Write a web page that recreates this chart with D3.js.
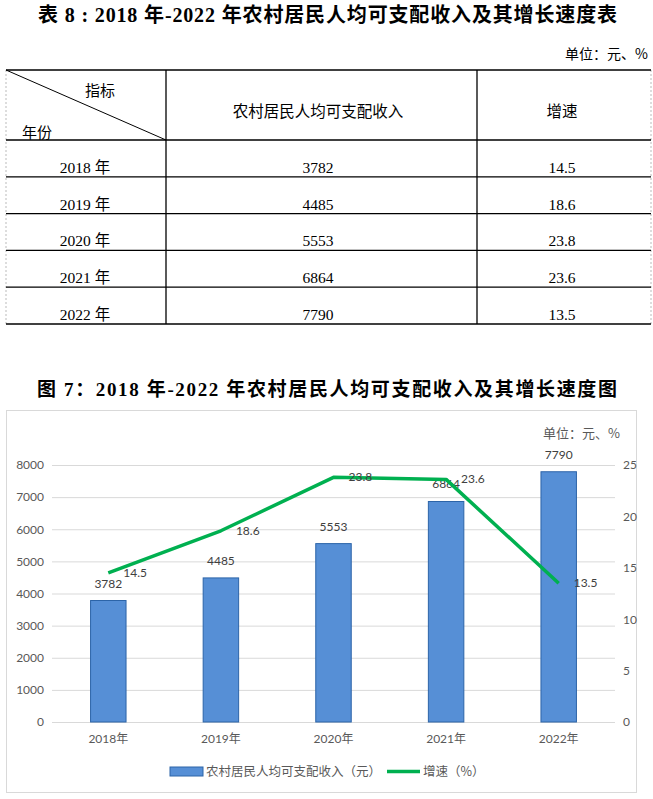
<!DOCTYPE html>
<html>
<head>
<meta charset="utf-8">
<script src="https://cdn.jsdelivr.net/npm/d3@7/dist/d3.min.js"></script>
<style>
  html, body { margin: 0; padding: 0; background: #fff; }
  svg { display: block; }
</style>
</head>
<body>
<div id="container"></div>
<script>
// data
let years = ['2018', '2019', '2020', '2021', '2022'];
let income = [3782, 4485, 5553, 6864, 7790];
let growth = [14.5, 18.6, 23.8, 23.6, 13.5];
let growthText = ['14.5', '18.6', '23.8', '23.6', '13.5'];
let leftTicks = [0, 1000, 2000, 3000, 4000, 5000, 6000, 7000, 8000];
let rightTicks = [0, 5, 10, 15, 20, 25];

let W = 653, H = 799;
let SERIF = '"Liberation Serif", "Times New Roman", "Noto Sans CJK SC", serif';
let CJK = '"Noto Sans CJK SC", sans-serif';
let NUM = 'Lato, "Noto Sans CJK SC", sans-serif';

let svg = d3.select('#container').append('svg')
    .attr('width', W).attr('height', H);

// ---------- table ----------
svg.append('text')
    .attr('x', 38).attr('y', 22)
    .attr('textLength', 579).attr('lengthAdjust', 'spacing')
    .style('font-family', SERIF).style('font-weight', 'bold').style('font-size', '20px')
    .text('表 8 : 2018 年-2022 年农村居民人均可支配收入及其增长速度表');

svg.append('text')
    .attr('x', 648).attr('y', 59).attr('text-anchor', 'end')
    .style('font-family', CJK).style('font-size', '14px')
    .text('单位：元、%');

let tLeft = 6, tRight = 651, col1 = 166, col2 = 477;
let tTop = 70, hBottom = 140, tBottom = 324;
let rowY = d3.scaleBand().domain(years).range([hBottom, tBottom]);

let tbl = svg.append('g');
// outer dashed side edges
[tLeft, tRight].forEach(function (x) {
    tbl.append('line')
        .attr('x1', x).attr('x2', x).attr('y1', tTop).attr('y2', tBottom)
        .attr('stroke', '#bbb').attr('stroke-width', 1).attr('stroke-dasharray', '2,2');
});
// horizontal rules
let hLines = [tTop, hBottom].concat(years.map(function (y) { return rowY(y) + rowY.bandwidth(); }));
hLines.forEach(function (y) {
    tbl.append('line')
        .attr('x1', tLeft).attr('x2', tRight).attr('y1', y).attr('y2', y)
        .attr('stroke', '#000').attr('stroke-width', 1.3);
});
[col1, col2].forEach(function (x) {
    tbl.append('line')
        .attr('x1', x).attr('x2', x).attr('y1', tTop).attr('y2', tBottom)
        .attr('stroke', '#000').attr('stroke-width', 1.3);
});
// diagonal header cell
tbl.append('line')
    .attr('x1', tLeft).attr('y1', tTop).attr('x2', col1).attr('y2', hBottom)
    .attr('stroke', '#000').attr('stroke-width', 1);
tbl.append('text').attr('x', 100).attr('y', 96).attr('text-anchor', 'middle')
    .style('font-family', CJK).style('font-size', '15px').text('指标');
tbl.append('text').attr('x', 37).attr('y', 138).attr('text-anchor', 'middle')
    .style('font-family', CJK).style('font-size', '15px').text('年份');
tbl.append('text').attr('x', 318).attr('y', 117).attr('text-anchor', 'middle')
    .style('font-family', CJK).style('font-size', '15.5px').text('农村居民人均可支配收入');
tbl.append('text').attr('x', 562).attr('y', 117).attr('text-anchor', 'middle')
    .style('font-family', CJK).style('font-size', '15.5px').text('增速');

let rows = tbl.selectAll('g.row').data(years).enter().append('g').attr('class', 'row');
rows.append('text')
    .attr('x', 85).attr('y', function (d) { return rowY(d) + rowY.bandwidth() - 4; })
    .attr('text-anchor', 'middle')
    .style('font-family', SERIF).style('font-size', '15.5px')
    .text(function (d) { return d + ' 年'; });
rows.append('text')
    .attr('x', 318).attr('y', function (d) { return rowY(d) + rowY.bandwidth() - 4; })
    .attr('text-anchor', 'middle')
    .style('font-family', SERIF).style('font-size', '15.5px')
    .text(function (d, i) { return income[i]; });
rows.append('text')
    .attr('x', 562).attr('y', function (d) { return rowY(d) + rowY.bandwidth() - 4; })
    .attr('text-anchor', 'middle')
    .style('font-family', SERIF).style('font-size', '15.5px')
    .text(function (d, i) { return growthText[i]; });

// ---------- chart ----------
svg.append('text')
    .attr('x', 37).attr('y', 396)
    .attr('textLength', 580).attr('lengthAdjust', 'spacing')
    .style('font-family', SERIF).style('font-weight', 'bold').style('font-size', '19px')
    .text('图 7：2018 年-2022 年农村居民人均可支配收入及其增长速度图');

svg.append('rect')
    .attr('x', 6.5).attr('y', 410.5).attr('width', 630).attr('height', 382)
    .attr('fill', '#fff').attr('stroke', '#d9d9d9').attr('stroke-width', 1);

svg.append('text')
    .attr('x', 620).attr('y', 438).attr('text-anchor', 'end')
    .style('font-family', CJK).style('font-size', '13px').style('fill', '#595959')
    .text('单位：元、%');

let plotL = 52, plotR = 615, plotT = 465, plotB = 722;
let x = d3.scaleBand().domain(years).range([plotL, plotR])
    .paddingInner(0.685).paddingOuter(0.3425);
let yL = d3.scaleLinear().domain([0, 8000]).range([plotB, plotT]);
let yR = d3.scaleLinear().domain([0, 25]).range([plotB, plotT]);
let cx = function (d) { return x(d) + x.bandwidth() / 2; };

// gridlines + left labels
let leftAxis = d3.axisLeft(yL).tickValues(leftTicks).tickFormat(d3.format('d'))
    .tickSize(-(plotR - plotL)).tickPadding(8);
let gl = svg.append('g').attr('transform', 'translate(' + plotL + ',0)').call(leftAxis);
gl.select('.domain').remove();
gl.selectAll('.tick line').attr('stroke', '#d9d9d9').attr('stroke-width', 1);
gl.selectAll('.tick text')
    .style('font-family', NUM).style('font-size', '12px').style('fill', '#595959');

let rightAxis = d3.axisRight(yR).tickValues(rightTicks).tickSize(0).tickPadding(8);
let gr = svg.append('g').attr('transform', 'translate(' + plotR + ',0)').call(rightAxis);
gr.select('.domain').remove();
gr.selectAll('.tick text')
    .style('font-family', NUM).style('font-size', '12px').style('fill', '#595959');

let bottomAxis = d3.axisBottom(x).tickSize(0).tickPadding(12)
    .tickFormat(function (d) { return d + '年'; });
let gb = svg.append('g').attr('transform', 'translate(0,' + plotB + ')').call(bottomAxis);
gb.select('.domain').remove();
gb.selectAll('.tick text')
    .style('font-family', NUM).style('font-size', '12px').style('fill', '#595959');

// bars
svg.append('g').selectAll('rect').data(years).enter().append('rect')
    .attr('x', function (d) { return x(d); })
    .attr('y', function (d, i) { return yL(income[i]); })
    .attr('width', x.bandwidth())
    .attr('height', function (d, i) { return plotB - yL(income[i]); })
    .attr('fill', '#568fd6').attr('stroke', '#2c64a8').attr('stroke-width', 1);

svg.append('g').selectAll('text').data(years).enter().append('text')
    .attr('x', cx)
    .attr('y', function (d, i) { return yL(income[i]) - 13; })
    .attr('text-anchor', 'middle')
    .style('font-family', NUM).style('font-size', '12px').style('fill', '#404040')
    .text(function (d, i) { return income[i]; });

// growth line
let line = d3.line()
    .x(function (d) { return cx(d); })
    .y(function (d, i) { return yR(growth[i]); });
svg.append('path').datum(years)
    .attr('d', line)
    .attr('fill', 'none').attr('stroke', '#00b050').attr('stroke-width', 3.5)
    .attr('stroke-linejoin', 'round');

svg.append('g').selectAll('text').data(years).enter().append('text')
    .attr('x', function (d) { return cx(d) + 15; })
    .attr('y', function (d, i) { return yR(growth[i]) + 4; })
    .style('font-family', NUM).style('font-size', '12px').style('fill', '#404040')
    .text(function (d, i) { return growthText[i]; });

// legend
let lg = svg.append('g');
lg.append('rect').attr('x', 170).attr('y', 767).attr('width', 33).attr('height', 9)
    .attr('fill', '#568fd6').attr('stroke', '#2c64a8').attr('stroke-width', 1);
lg.append('text').attr('x', 206).attr('y', 776)
    .style('font-family', CJK).style('font-size', '12.5px').style('fill', '#595959')
    .text('农村居民人均可支配收入（元）');
lg.append('line').attr('x1', 387).attr('x2', 420).attr('y1', 771.5).attr('y2', 771.5)
    .attr('stroke', '#00b050').attr('stroke-width', 3.5);
lg.append('text').attr('x', 423).attr('y', 776)
    .style('font-family', CJK).style('font-size', '12.5px').style('fill', '#595959')
    .text('增速（%）');
</script>
</body>
</html>
